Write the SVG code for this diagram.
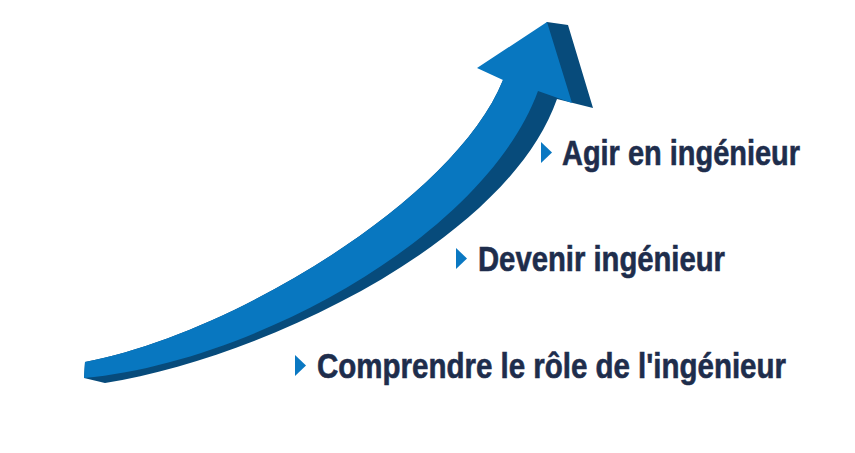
<svg xmlns="http://www.w3.org/2000/svg" width="855" height="453" viewBox="0 0 855 453">
<style>
.front{fill:#0877c0}
.side{fill:#074b7b}
.bullet{fill:#0a78c2}
.lbl{font-family:"Liberation Sans Narrow","Liberation Sans",Arial,sans-serif;font-stretch:condensed;font-weight:bold;font-size:35px;fill:#1e2d4c;stroke:#1e2d4c;stroke-width:0.6px}
</style>
<rect width="855" height="453" fill="#ffffff"/>
<g id="arrow">
<path class="side" d="M84,378 L105,383 C262,358 507,242 557,99 L593,108 L568,25 L547,22 L503,80 C455,200 230,335 85,362 Z"/>
<path class="front" d="M85,362 C230,335 455,200 503,80 L477,68 L547,22 L572,103 L538,91 C485,235 255,362 84,378 Z"/>
</g>
<g id="item-agir">
<polygon class="bullet" points="541,142 552,152.5 541,163"/>
<text class="lbl" x="562" y="165" textLength="238" lengthAdjust="spacingAndGlyphs">Agir en ingénieur</text>
</g>
<g id="item-devenir">
<polygon class="bullet" points="456,248 467,258.5 456,269"/>
<text class="lbl" x="478" y="271" textLength="247" lengthAdjust="spacingAndGlyphs">Devenir ingénieur</text>
</g>
<g id="item-comprendre">
<polygon class="bullet" points="295,355 306,365.5 295,376"/>
<text class="lbl" x="317" y="378" textLength="469" lengthAdjust="spacingAndGlyphs">Comprendre le rôle de l'ingénieur</text>
</g>
</svg>
